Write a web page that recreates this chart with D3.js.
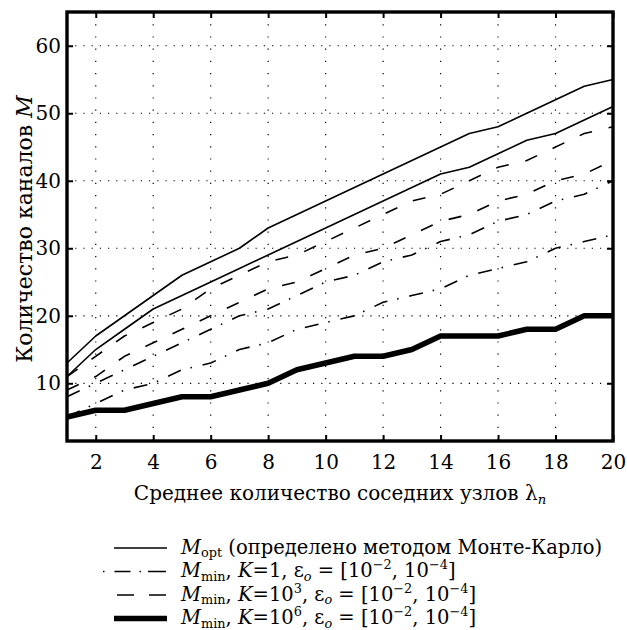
<!DOCTYPE html>
<html>
<head>
<meta charset="utf-8">
<script src="https://cdn.jsdelivr.net/npm/d3@7"></script>
<style>
  body { margin: 0; background: #fff; }
  svg text { font-family: "DejaVu Serif", serif; fill: #000; }
</style>
</head>
<body>
<div id="chart"></div>
<script>
// lambda_n values
const lambdas = d3.range(1, 21);

// M_opt, two epsilon values (Monte-Carlo)
const moptHigh = [13, 17, 20, 23, 26, 28, 30, 33, 35, 37, 39, 41, 43, 45, 47, 48, 50, 52, 54, 55];
const moptLow  = [11, 15, 18, 21, 23, 25, 27, 29, 31, 33, 35, 37, 39, 41, 42, 44, 46, 47, 49, 51];
// M_min, K=10^3
const k3High = [11, 14, 17, 19, 21, 24, 26, 28, 29, 31, 33, 35, 37, 38, 40, 42, 43, 45, 47, 48];
const k3Low  = [9, 11, 14, 16, 18, 20, 22, 24, 25, 27, 29, 30, 32, 34, 35, 37, 38, 40, 41, 43];
// M_min, K=1
const k1High = [8, 10, 12, 14, 16, 18, 20, 21, 23, 25, 26, 28, 29, 31, 32, 34, 35, 37, 38, 40];
const k1Low  = [5, 7, 9, 10, 12, 13, 15, 16, 18, 19, 20, 22, 23, 24, 26, 27, 28, 30, 31, 32];
// M_min, K=10^6
const k6 = [5, 6, 6, 7, 8, 8, 9, 10, 12, 13, 14, 14, 15, 17, 17, 17, 18, 18, 20, 20];

const xTicks = [2, 4, 6, 8, 10, 12, 14, 16, 18, 20];
const yTicks = [10, 20, 30, 40, 50, 60];

const styles = {
    solid:   { width: 1.6, dash: null },
    dashdot: { width: 1.6, dash: "14,10,1.5,11" },
    dashed:  { width: 1.6, dash: "13,17" },
    thick:   { width: 5.5, dash: null }
};

const series = [
    { values: moptHigh, style: "solid" },
    { values: moptLow,  style: "solid" },
    { values: k3High,   style: "dashed" },
    { values: k3Low,    style: "dashed" },
    { values: k1High,   style: "dashdot" },
    { values: k1Low,    style: "dashdot" },
    { values: k6,       style: "thick" }
];

const W = 627, H = 630;
const margin = { top: 12, right: 14, bottom: 189, left: 67 },
      width = W - margin.left - margin.right,
      height = H - margin.top - margin.bottom;

const svg = d3.select("#chart").append("svg")
    .attr("width", W)
    .attr("height", H);

const g = svg.append("g")
    .attr("transform", `translate(${margin.left},${margin.top})`);

const x = d3.scaleLinear().domain([1, 20]).range([0, width]);
const y = d3.scaleLinear().domain([1.45, 65]).range([height, 0]);

// dotted grid
g.append("g").selectAll("line.gy")
    .data(yTicks).join("line")
    .attr("x1", 0).attr("x2", width)
    .attr("y1", d => y(d)).attr("y2", d => y(d))
    .attr("stroke", "#000").attr("stroke-width", 1.2)
    .attr("stroke-dasharray", "1.2,7");

g.append("g").selectAll("line.gx")
    .data(xTicks.slice(0, -1)).join("line")
    .attr("x1", d => x(d)).attr("x2", d => x(d))
    .attr("y1", 0).attr("y2", height)
    .attr("stroke", "#000").attr("stroke-width", 1.2)
    .attr("stroke-dasharray", "1.2,11");

// lines
const line = d3.line()
    .x((d, i) => x(lambdas[i]))
    .y(d => y(d));

series.forEach(s => {
    const st = styles[s.style];
    g.append("path")
        .datum(s.values)
        .attr("d", line)
        .attr("fill", "none")
        .attr("stroke", "#000")
        .attr("stroke-width", st.width)
        .attr("stroke-linejoin", "round")
        .attr("stroke-dasharray", st.dash);
});

// axes with inward ticks
const xAxis = d3.axisBottom(x).tickValues(xTicks).tickSize(-6).tickPadding(14).tickFormat(d3.format("d"));
const yAxis = d3.axisLeft(y).tickValues(yTicks).tickSize(-6).tickPadding(6);

const xg = g.append("g").attr("transform", `translate(0,${height})`).call(xAxis);
const yg = g.append("g").call(yAxis);
const xt = g.append("g").call(d3.axisTop(x).tickValues(xTicks).tickSize(-6).tickFormat(""));
const yr = g.append("g").attr("transform", `translate(${width},0)`)
    .call(d3.axisRight(y).tickValues(yTicks).tickSize(-6).tickFormat(""));

[xg, yg, xt, yr].forEach(a => {
    a.select(".domain").remove();
    a.selectAll(".tick line").attr("stroke", "#000").attr("stroke-width", 2);
    a.selectAll("text").style("font-size", "20px").attr("fill", "#000");
});

// frame
g.append("rect")
    .attr("width", width).attr("height", height)
    .attr("fill", "none").attr("stroke", "#000").attr("stroke-width", 3.4);

// rich text helper: segments with italic / sub / sup
function richText(sel, segs, size) {
    let shift = 0;
    segs.forEach(s => {
        const target = s.sub ? 3.5 : s.sup ? -8 : 0;
        sel.append("tspan")
            .text(s.t)
            .attr("dy", target - shift)
            .style("font-size", (s.sub || s.sup) ? (size * 0.66) + "px" : size + "px")
            .style("font-style", s.i ? "italic" : "normal");
        shift = target;
    });
}

// axis titles
const yTitle = svg.append("text")
    .attr("transform", `translate(32,229) rotate(-90)`)
    .attr("text-anchor", "middle");
richText(yTitle, [{ t: "Количество каналов " }, { t: "M", i: true }], 22);

const xTitle = svg.append("text")
    .attr("x", 340)
    .attr("y", 500)
    .attr("text-anchor", "middle");
richText(xTitle, [{ t: "Среднее количество соседних узлов λ" }, { t: "n", sub: true, i: true }], 20);

// legend
const eps = [{ t: ", ε" }, { t: "o", sub: true, i: true }, { t: " = [10" }, { t: "−2", sup: true },
             { t: ", 10" }, { t: "−4", sup: true }, { t: "]" }];
const legendItems = [
    { style: "solid", segs: [{ t: "M", i: true }, { t: "opt", sub: true }, { t: "  (определено методом Монте-Карло)" }] },
    { style: "dashdot", segs: [{ t: "M", i: true }, { t: "min", sub: true }, { t: ", " }, { t: "K", i: true }, { t: "=1" }].concat(eps) },
    { style: "dashed", segs: [{ t: "M", i: true }, { t: "min", sub: true }, { t: ", " }, { t: "K", i: true }, { t: "=10" }, { t: "3", sup: true }].concat(eps) },
    { style: "thick", segs: [{ t: "M", i: true }, { t: "min", sub: true }, { t: ", " }, { t: "K", i: true }, { t: "=10" }, { t: "6", sup: true }].concat(eps) }
];

const legend = svg.append("g").attr("transform", "translate(103,548)");
legendItems.forEach((it, i) => {
    const st = styles[it.style];
    const row = legend.append("g").attr("transform", `translate(0,${i * 23.5})`);
    row.append("line")
        .attr("x1", it.style === "dashdot" ? 0 : it.style === "dashed" ? 14 : 11).attr("x2", 64)
        .attr("y1", 0).attr("y2", 0)
        .attr("stroke", "#000")
        .attr("stroke-width", st.width)
        .attr("stroke-dasharray", it.style === "dashdot" ? "1.5,10,16,9,1.5,7,18" : it.style === "dashed" ? "17,15" : null);
    const t = row.append("text").attr("x", 78).attr("y", 5.5);
    richText(t, it.segs, 19.5);
});
</script>
</body>
</html>
